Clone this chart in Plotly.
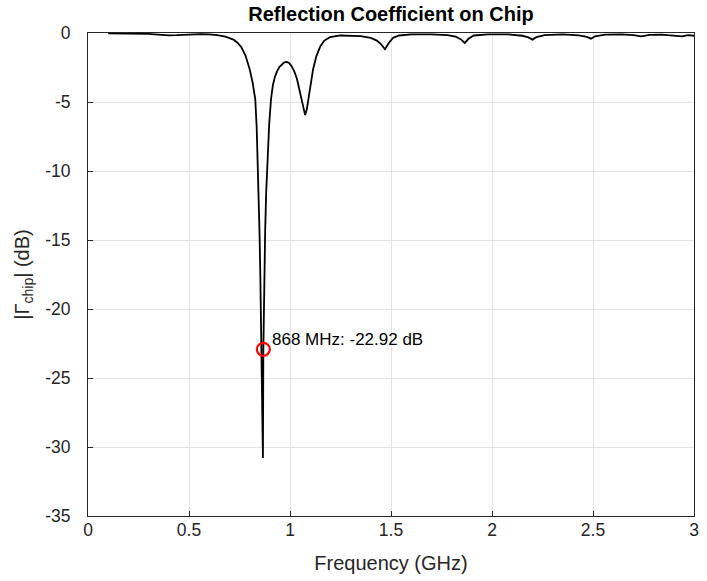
import plotly.graph_objects as go

# Frequency (GHz) and |Gamma_chip| (dB)
freq_ghz = [0.10, 0.15, 0.20, 0.25, 0.30, 0.33, 0.36, 0.40, 0.44, 0.48, 0.52, 0.56,
            0.60, 0.64, 0.68, 0.70, 0.72, 0.74, 0.76, 0.78, 0.80, 0.815, 0.828,
            0.835, 0.840, 0.845, 0.849, 0.853, 0.856, 0.860, 0.863, 0.866, 0.868,
            0.870, 0.873, 0.877, 0.882, 0.889, 0.897, 0.906, 0.915, 0.925, 0.935,
            0.948, 0.960, 0.972, 0.984, 0.996, 1.008, 1.020, 1.034, 1.046, 1.058,
            1.067, 1.075, 1.083, 1.091, 1.102, 1.114, 1.130, 1.149, 1.170, 1.198,
            1.25, 1.30, 1.35, 1.40, 1.43, 1.45, 1.47, 1.49, 1.51, 1.54, 1.60,
            1.70, 1.78, 1.82, 1.845, 1.865, 1.885, 1.91, 1.98, 2.08, 2.15, 2.18,
            2.20, 2.22, 2.26, 2.35, 2.43, 2.47, 2.49, 2.51, 2.56, 2.64, 2.70,
            2.74, 2.78, 2.84, 2.90, 2.94, 2.97, 3.00]
gamma_db = [-0.03, -0.03, -0.04, -0.05, -0.07, -0.10, -0.14, -0.17, -0.16, -0.13, -0.10, -0.08,
            -0.10, -0.15, -0.27, -0.36, -0.48, -0.70, -1.05, -1.65, -2.60, -3.60, -4.80,
            -6.8, -9.1, -11.8, -14.4, -17.5, -20.2, -23.5, -26.5, -30.8, -22.92,
            -20.0, -17.0, -14.4, -11.6, -9.1, -6.6, -4.8, -3.8, -3.2, -2.8,
            -2.45, -2.25, -2.13, -2.10, -2.18, -2.40, -2.75, -3.30, -4.10, -5.00,
            -5.65, -5.95, -5.55, -4.80, -3.70, -2.65, -1.70, -1.00, -0.55, -0.30,
            -0.18, -0.18, -0.22, -0.35, -0.55, -0.80, -1.18, -0.70, -0.35, -0.18, -0.10,
            -0.10, -0.15, -0.27, -0.45, -0.72, -0.40, -0.18, -0.10, -0.10, -0.20, -0.32,
            -0.48, -0.30, -0.15, -0.10, -0.17, -0.28, -0.41, -0.24, -0.12, -0.10, -0.15,
            -0.24, -0.14, -0.12, -0.18, -0.25, -0.16, -0.20]

marker_f = [0.868]
marker_db = [-22.92]
marker_label = "868 MHz: -22.92 dB"

x_ticks = [0, 0.5, 1, 1.5, 2, 2.5, 3]
x_ticktext = ["0", "0.5", "1", "1.5", "2", "2.5", "3"]
y_ticks = [0, -5, -10, -15, -20, -25, -30, -35]
y_ticktext = ["0", "-5", "-10", "-15", "-20", "-25", "-30", "-35"]

AX = "#262626"
GRID = "#e3e3e3"
FONT = "Liberation Sans, Arial, Helvetica, sans-serif"

fig = go.Figure()
fig.add_trace(go.Scatter(x=freq_ghz, y=gamma_db, mode="lines",
                         line=dict(color="black", width=1.8), showlegend=False,
                         hoverinfo="skip"))
fig.add_trace(go.Scatter(x=marker_f, y=marker_db, mode="markers",
                         marker=dict(symbol="circle-open", size=13,
                                     line=dict(color="#ff0000", width=2.2),
                                     color="#ff0000"),
                         showlegend=False))
fig.add_annotation(x=marker_f[0], y=marker_db[0], text=marker_label,
                   showarrow=False, xanchor="left", yanchor="middle",
                   xshift=7, yshift=10, font=dict(size=17, color="black", family=FONT))

axis_common = dict(showline=True, linecolor=AX, linewidth=1, mirror=True,
                   ticks="inside", ticklen=5, tickcolor=AX,
                   showgrid=True, gridcolor=GRID, gridwidth=1, zeroline=False,
                   tickfont=dict(size=17.5, color=AX, family=FONT))

fig.update_xaxes(range=[0, 3], tickvals=x_ticks, ticktext=x_ticktext,
                 ticklabelstandoff=-2,
                 title=dict(text="Frequency (GHz)", font=dict(size=20, color=AX, family=FONT),
                            standoff=16),
                 **axis_common)
fig.update_yaxes(range=[-35, 0], tickvals=y_ticks, ticktext=y_ticktext,
                 ticklabelstandoff=13,
                 title=dict(text="|Γ<sub>chip</sub>| (dB)", font=dict(size=20, color=AX, family=FONT),
                            standoff=10),
                 **axis_common)

fig.update_layout(
    width=707, height=581,
    margin=dict(l=88, r=8, t=33, b=65),
    paper_bgcolor="white", plot_bgcolor="white",
    title=dict(text="<b>Reflection Coefficient on Chip</b>", x=0.5, xref="paper",
               xanchor="center", y=1 - 14 / 581, yref="container", yanchor="middle",
               font=dict(size=20, color="black", family=FONT)),
    font=dict(family=FONT),
)

fig.write_html("out.html")
